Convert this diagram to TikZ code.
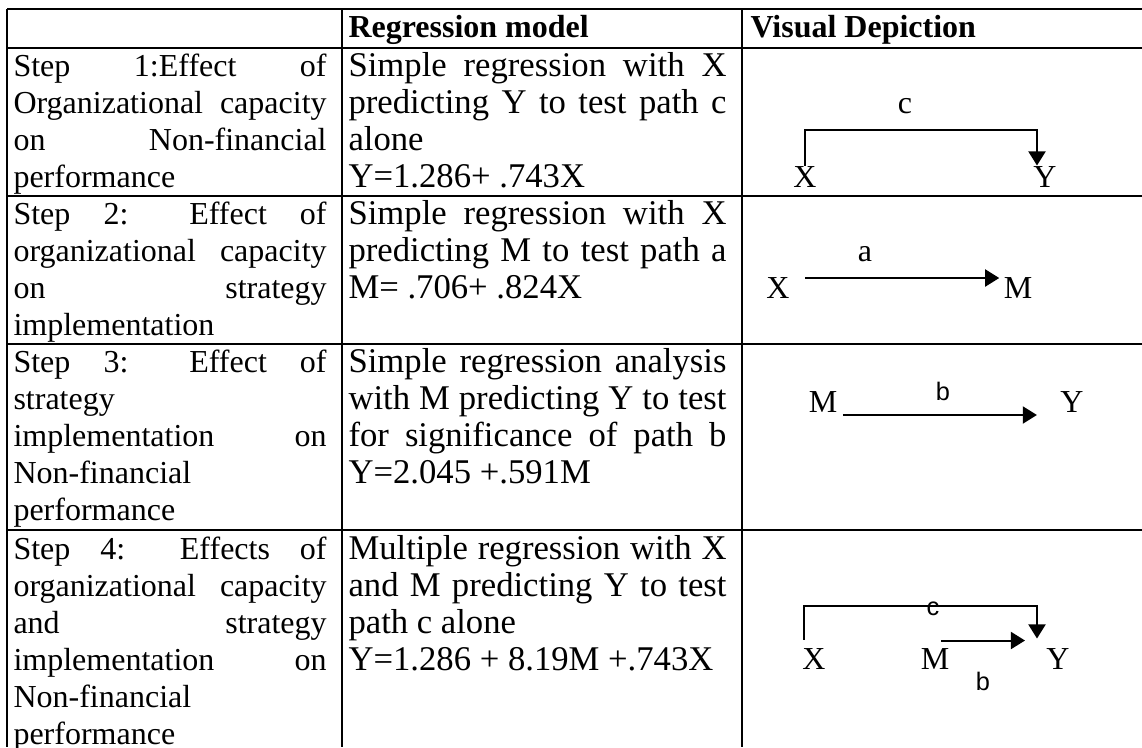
\documentclass[tikz,border=0pt]{standalone}
\usepackage{fontspec}
\setmainfont{Liberation Serif}
\newfontfamily\labelsans{Liberation Sans}
\usetikzlibrary{arrows.meta,calc}
\hbadness=10000
\begin{document}
\begin{tikzpicture}[x=0.375pt,y=-0.375pt,
  font=\fontsize{12}{13.875}\selectfont,
  rule/.style={line width=0.75pt},
  head/.style={anchor=base west,inner sep=0pt,font=\fontsize{12}{13.875}\selectfont\bfseries},
  colone/.style={anchor=base west,inner sep=0pt,text width=117.4pt,align=justify},
  coltwo/.style={anchor=base west,inner sep=0pt,text width=141.75pt,align=justify,
    font=\fontsize{13}{13.875}\selectfont},
  var/.style={anchor=base,inner sep=0pt},
  sanslabel/.style={anchor=base,inner sep=0pt,font=\labelsans\fontsize{9.5}{11}\selectfont},
  link/.style={line width=0.75pt,-{Triangle[width=6.4pt,length=5.3pt]}}]
\useasboundingbox (0,0) rectangle (1142,747);
\clip (0,0) rectangle (1142,747);

% table rules (the table runs on past the right and bottom edges)
\foreach \yy in {9,48,196,344,530} \draw[rule] (7,\yy) -- (1142,\yy);
\foreach \xx in {7,342,742} \draw[rule] (\xx,9) -- (\xx,747);

% header
\node[head] (hmodel) at (348,37) {Regression model};
\node[head] (hvis) at (750,37) {Visual Depiction};

% step 1
\node[colone] (s1) at (13,76) {Step 1:Effect of\linebreak Organizational capacity\linebreak on Non-financial\linebreak performance};
\node[coltwo] (m1) at (348,76) {Simple regression with X\linebreak predicting Y to test path c\linebreak alone\newline Y=1.286+ .743X};
\node[var] (X1) at (805,187) {X};
\node[var] (Y1) at (1045,187) {Y};
\node[var] (c1) at (905,113) {c};
\draw[link] (X1.north) -- ++(0,-36) -| ($(Y1.north)+(-8,0)$);

% step 2
\node[colone] (s2) at (13,224) {Step 2: Effect of\linebreak organizational capacity\linebreak on strategy\linebreak implementation};
\node[coltwo] (m2) at (348,224) {Simple regression with X\linebreak predicting M to test path a\linebreak M= .706+ .824X};
\node[var] (X2) at (778,298) {X};
\node[var] (M2) at (1018,298) {M};
\node[var] (a2) at (865,261) {a};
\draw[link] ($(X2.base east)+(15,-20)$) -- ($(M2.base west)+(-4,-20)$);

% step 3
\node[colone] (s3) at (13,372) {Step 3: Effect of\linebreak strategy\newline implementation on\linebreak Non-financial\newline performance};
\node[coltwo] (m3) at (348,372) {Simple regression analysis\linebreak with M predicting Y to test\linebreak for significance of path b\linebreak Y=2.045 +.591M};
\node[var] (M3) at (823,412) {M};
\node[var] (Y3) at (1072,412) {Y};
\node[sanslabel] (b3) at (943,400) {b};
\draw[link] ($(M3.base east)+(5,3)$) -- ($(Y3.base west)+(-23,3)$);

% step 4
\node[colone] (s4) at (13,559) {Step 4: Effects of\linebreak organizational capacity\linebreak and strategy\linebreak implementation on\linebreak Non-financial\newline performance};
\node[coltwo] (m4) at (348,559) {Multiple regression with X\linebreak and M predicting Y to test\linebreak path c alone\newline Y=1.286 + 8.19M +.743X};
\node[var] (X4) at (814,669) {X};
\node[var] (M4) at (935,669) {M};
\node[var] (Y4) at (1058,669) {Y};
\node[sanslabel] (c4) at (933,615) {c};
\node[sanslabel] (b4) at (983,690) {b};
\draw[link] ($(X4.north)+(-10,-8)$) -- ++(0,-34) -| ($(Y4.north)+(-21,-9)$);
\draw[link] ($(M4.north)+(6,-7)$) -- ($(Y4.north)+(-33,-7)$);
\end{tikzpicture}
\end{document}
